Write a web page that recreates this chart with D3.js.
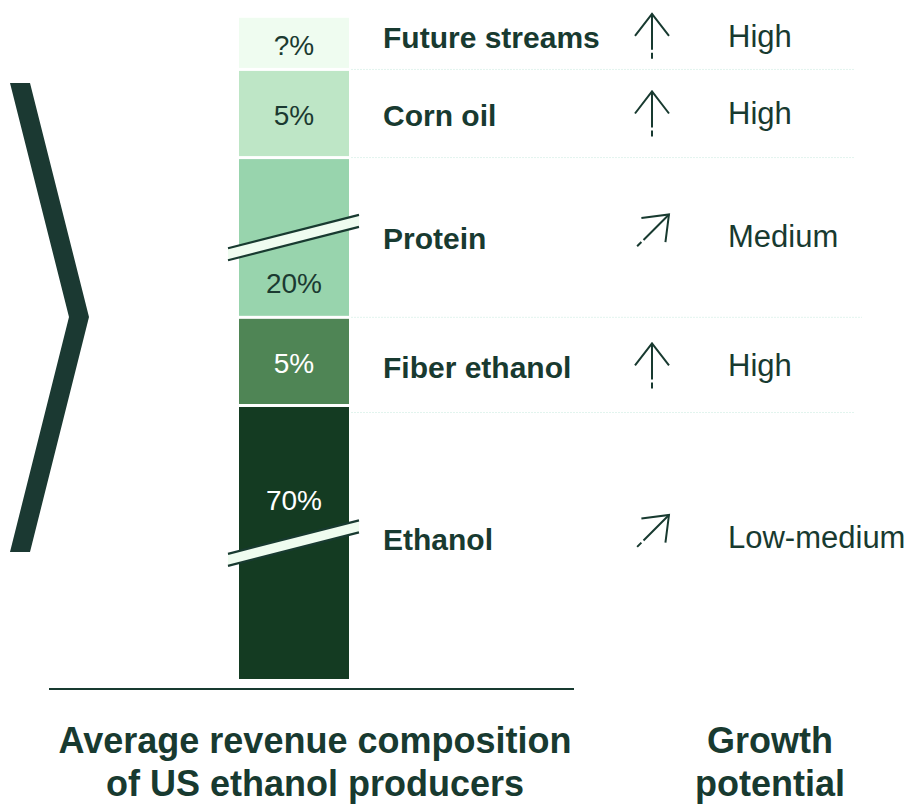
<!DOCTYPE html>
<html>
<head>
<meta charset="utf-8">
<script src="https://cdn.jsdelivr.net/npm/d3@7"></script>
<style>
  html, body { margin: 0; padding: 0; background: #fff; }
  svg { display: block; font-family: 'Liberation Sans', Arial, sans-serif; }
</style>
</head>
<body>
<svg id="chart" width="910" height="808"></svg>
<script>
// revenue streams, stacked from the top of the bar down
const streams = ['Future streams', 'Corn oil', 'Protein', 'Fiber ethanol', 'Ethanol'];
const shares = [1.5, 5, 20, 5, 70];            // ?% slot drawn as a small share
const shareLabels = ['?%', '5%', '20%', '5%', '70%'];
const broken = [false, false, true, false, true];
const growth = ['High', 'High', 'Medium', 'High', 'Low-medium'];
const arrowDir = ['up', 'up', 'diag', 'up', 'diag'];

const fills = ['#effcf0', '#bee6c6', '#98d4ad', '#4f8555', '#143b22'];
const labelInk = ['#1b3a31', '#1b3a31', '#1b3a31', '#ffffff', '#ffffff'];
const ink = '#183a30';

const svg = d3.select('#chart');

const barX = 239, barW = 110, barBottom = 679, gap = 3;
// broken bar: compressed length scale
const h = d3.scalePow().exponent(0.44).domain([0, 70]).range([0, 272]);

// stack from bottom
const segs = [];
let yCur = barBottom;
for (let i = shares.length - 1; i >= 0; i--) {
    const len = h(shares[i]);
    segs[i] = { i, y0: yCur - len, y1: yCur, mid: yCur - len / 2 };
    yCur -= len + gap;
}

// row text sits a little off the segment middle
const rowShift = [-5, 2, 1, 6, -4];
const rowY = d => d.mid + rowShift[d.i];

// chevron on the left
svg.append('path')
    .attr('d', 'M10,83 L30,83 L89,317 L30,552 L10,552 L69,317 Z')
    .attr('fill', '#1b3932');

// row dividers
segs.slice(1).forEach(s => {
    const y = s.y0 - gap / 2 + (s.i === 4 ? 7 : 0);
    svg.append('line')
        .attr('x1', barX + barW + 2).attr('x2', s.i === 3 ? 862 : 855)
        .attr('y1', y).attr('y2', y)
        .attr('stroke', '#e2f4ee').attr('stroke-width', 1)
        .attr('stroke-dasharray', '2,1');
});

// bar segments
svg.append('g').selectAll('rect')
    .data(segs)
    .join('rect')
    .attr('x', barX).attr('width', barW)
    .attr('y', d => d.y0).attr('height', d => d.y1 - d.y0)
    .attr('fill', d => fills[d.i]);

// break marks
segs.filter(d => broken[d.i]).forEach(d => {
    const cx = barX + barW / 2, cy = d.mid;
    const x0 = 228, x1 = 359, slope = -0.255, th = 12;
    const yA = cy + (x0 - cx) * slope, yB = cy + (x1 - cx) * slope;
    const g = svg.append('g');
    g.append('path')
        .attr('d', `M${x0},${yA - th / 2} L${x1},${yB - th / 2} L${x1},${yB + th / 2} L${x0},${yA + th / 2} Z`)
        .attr('fill', '#effcf0');
    [-th / 2, th / 2].forEach(o => {
        g.append('line')
            .attr('x1', x0).attr('y1', yA + o).attr('x2', x1).attr('y2', yB + o)
            .attr('stroke', ink).attr('stroke-width', 2.2);
    });
});

// percent labels
svg.append('g').selectAll('text')
    .data(segs)
    .join('text')
    .attr('x', barX + barW / 2)
    .attr('y', d => !broken[d.i] ? d.mid + 2 : (d.i === 2 ? d.mid + 46 : d.mid - 43))
    .attr('dy', '0.35em')
    .attr('text-anchor', 'middle')
    .attr('font-size', 28)
    .attr('fill', d => labelInk[d.i])
    .text(d => shareLabels[d.i]);

// category labels
svg.append('g').selectAll('text')
    .data(segs)
    .join('text')
    .attr('x', 383).attr('y', rowY)
    .attr('dy', '0.35em')
    .attr('font-size', 30).attr('font-weight', 700)
    .attr('fill', ink)
    .text(d => streams[d.i]);

// growth arrows
function drawArrow(cx, cy, dir) {
    const g = svg.append('g')
        .attr('transform', dir === 'diag'
            ? `translate(${cx},${cy - 7}) rotate(45)`
            : `translate(${cx},${cy})`)
        .attr('stroke', ink).attr('stroke-width', 2).attr('fill', 'none')
        .attr('stroke-linecap', 'butt');
    g.append('line').attr('x1', 0).attr('y1', -24).attr('x2', 0).attr('y2', 21)
        .attr('stroke-dasharray', '36,3,8,40');
    g.append('path').attr('d', 'M-17,-2 L0,-24 L17,-2');
}
segs.forEach(d => drawArrow(652, rowY(d), arrowDir[d.i]));

// growth labels
svg.append('g').selectAll('text')
    .data(segs)
    .join('text')
    .attr('x', 728).attr('y', d => rowY(d) - 2)
    .attr('dy', '0.35em')
    .attr('font-size', 31)
    .attr('fill', ink)
    .text(d => growth[d.i]);

// baseline
svg.append('line')
    .attr('x1', 49).attr('x2', 574).attr('y1', 689).attr('y2', 689)
    .attr('stroke', ink).attr('stroke-width', 2);

// bottom titles
const titles = [
    { x: 315, lines: ['Average revenue composition', 'of US ethanol producers'] },
    { x: 770, lines: ['Growth', 'potential'] }
];
titles.forEach(t => {
    t.lines.forEach((s, k) => {
        svg.append('text')
            .attr('x', t.x).attr('y', 753 + k * 43)
            .attr('text-anchor', 'middle')
            .attr('font-size', 36).attr('font-weight', 700)
            .attr('fill', ink)
            .text(s);
    });
});
</script>
</body>
</html>
